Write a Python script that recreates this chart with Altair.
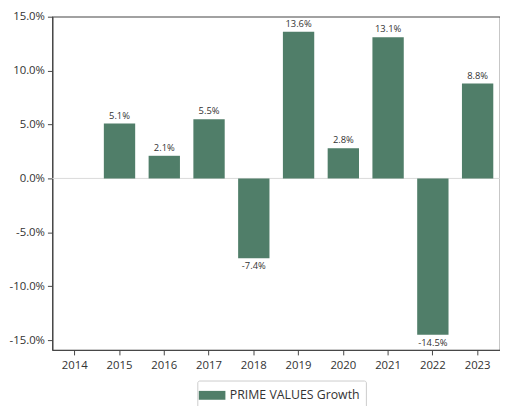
import altair as alt
import pandas as pd

years = ["2014", "2015", "2016", "2017", "2018", "2019", "2020", "2021", "2022", "2023"]
growth = [None, 0.051, 0.021, 0.055, -0.074, 0.136, 0.028, 0.131, -0.145, 0.088]
series_name = "PRIME VALUES Growth"

df = pd.DataFrame({"year": years, "growth": growth, "series": series_name})
df_valid = df.dropna()
pos = df_valid[df_valid.growth >= 0]
neg = df_valid[df_valid.growth < 0]

FONT = "Open Sans"
BAR = "#507e69"

xscale = alt.Scale(domain=years, paddingInner=0.3, paddingOuter=0.15)
x = alt.X("year:N", sort=years, scale=xscale,
          axis=alt.Axis(title=None, labelAngle=0, labelFontSize=11.5, labelColor="#333",
                        tickColor="#444", domainColor="#444", tickSize=5, labelPadding=5))
yscale = alt.Scale(domain=[-0.1591, 0.15], nice=False, zero=False)

bars = alt.Chart(df_valid).mark_bar(color=BAR).encode(
    x=x,
    y=alt.Y("growth:Q", scale=yscale,
            axis=alt.Axis(title=None, values=[-0.15, -0.10, -0.05, 0.0, 0.05, 0.10, 0.15],
                          labelExpr="replace(format(datum.value, '.1%'), '\u2212', '-')",
                          grid=False, labelFontSize=11.5, labelColor="#333", tickColor="#444",
                          domainColor="#444", tickSize=5, labelPadding=3)),
    color=alt.Color("series:N", scale=alt.Scale(range=[BAR]),
                    legend=alt.Legend(title=None, orient="none", legendX=147, legendY=369,
                                      symbolType="M-1.5,-0.5H1.5V0.5H-1.5Z", symbolSize=324,
                                      symbolStrokeWidth=0, labelFontSize=12.5, labelColor="#333",
                                      fillColor="white", strokeColor="#ccc", padding=6,
                                      cornerRadius=2, symbolOffset=0, labelOffset=9)),
)

zero = alt.Chart(pd.DataFrame({"z": [0.0]})).mark_rule(color="#d9d9d9", strokeWidth=1).encode(
    y=alt.Y("z:Q", scale=yscale))

lab_pos = alt.Chart(pos).transform_calculate(
    lbl="replace(format(datum.growth, '.1%'), '\u2212', '-')"
).mark_text(baseline="bottom", dy=-3, fontSize=9.5, color="#333", font=FONT).encode(
    x=alt.X("year:N", sort=years, scale=xscale),
    y=alt.Y("growth:Q", scale=yscale),
    text="lbl:N")
lab_neg = alt.Chart(neg).transform_calculate(
    lbl="replace(format(datum.growth, '.1%'), '\u2212', '-')"
).mark_text(baseline="top", dy=3, fontSize=9.5, color="#333", font=FONT).encode(
    x=alt.X("year:N", sort=years, scale=xscale),
    y=alt.Y("growth:Q", scale=yscale),
    text="lbl:N")

chart = alt.layer(zero, bars, lab_pos, lab_neg).properties(
    width=454, height=338,
    autosize=alt.AutoSizeParams(type="none"),
    padding={"left": 45, "top": 6, "right": 0, "bottom": 54},
).configure(font=FONT).configure_view(stroke="#444", strokeWidth=1.2)

chart.save("out.html", embed_options={"renderer": "svg", "actions": False})
